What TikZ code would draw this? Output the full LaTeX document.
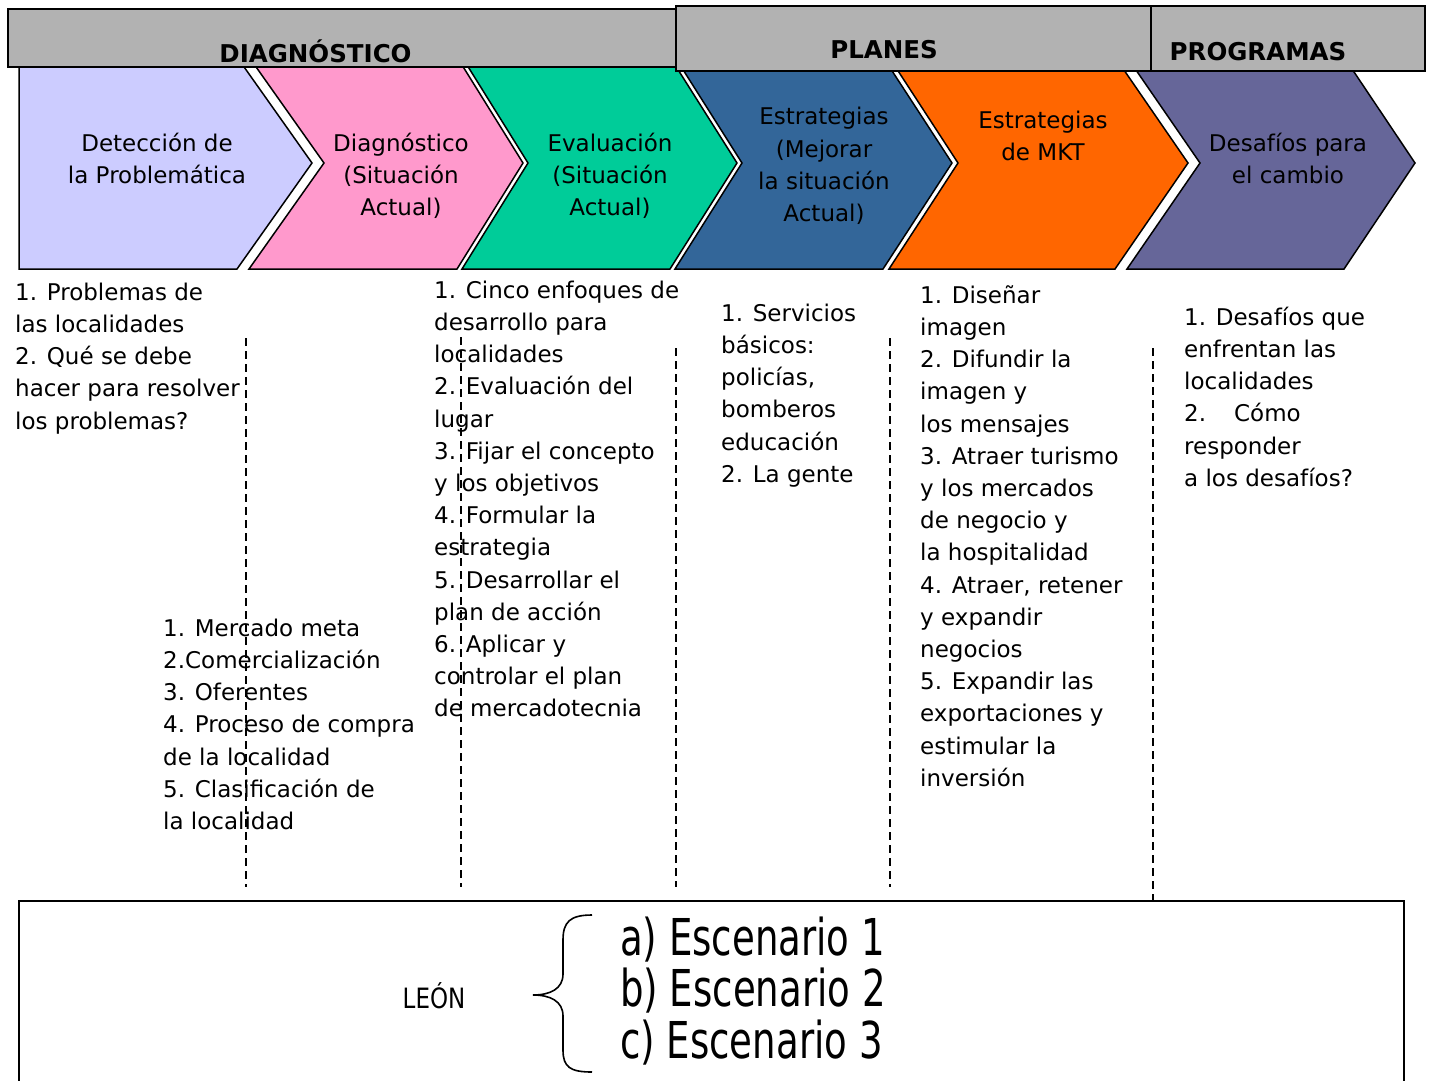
\documentclass[tikz,border=0pt]{standalone}
\usepackage{fontspec}
\setmainfont{DejaVu Sans}
\newfontfamily\narrowfont[FakeStretch=0.73]{DejaVu Sans}
\newfontfamily\leonfont[FakeStretch=0.82]{DejaVu Sans}
\newcommand\stt{\rule[-0.24em]{0pt}{1.2em}}
\definecolor{cLav}{HTML}{CCCCFF}
\definecolor{cPink}{HTML}{FF99CC}
\definecolor{cGreen}{HTML}{00CC99}
\definecolor{cBlue}{HTML}{336699}
\definecolor{cOrange}{HTML}{FF6600}
\definecolor{cPurple}{HTML}{666699}
\definecolor{cHead}{HTML}{B2B2B2}
\newcommand\mychev[5]{% color, Lb, Rb, notch depth, tip depth
  \draw[chevbox, fill=#1] (#2,269) -- (#3,269) -- ({#3+#5},163) -- (#3,57) -- (#2,57) -- ({#2+#4},163) -- cycle;}
\begin{document}
\begin{tikzpicture}[x=1pt,y=-1pt,
  chevbox/.style={draw=black, line width=1.5pt, line join=miter},
  headbox/.style={draw=black, line width=2pt, fill=cHead},
  headtxt/.style={anchor=base, inner sep=0pt, font=\fontsize{24.5}{29}\selectfont\bfseries},
  chevtxt/.style={anchor=center, align=center, inner sep=0pt, font=\fontsize{23}{32.2}\selectfont},
  listtxt/.style={anchor=north west, align=left, inner sep=0pt, font=\fontsize{23}{32.2}\selectfont},
  sep/.style={draw=black, line width=1.8pt, dash pattern=on 8pt off 5pt},
]
\useasboundingbox (0,0) rectangle (1430,1081);
\fill[white] (0,0) rectangle (1430,1081);

% chevrons
\mychev{cLav}{19}{237}{0}{75}
\mychev{cPink}{249}{457}{75}{66}
\mychev{cGreen}{462}{670}{66}{67}
\mychev{cBlue}{675}{883}{67}{69}
\mychev{cOrange}{889}{1115}{69}{73}
\mychev{cPurple}{1127}{1344}{73}{71}

% header bars
\draw[headbox] (8,9) rectangle (676,67);
\draw[headbox] (676,6) rectangle (1151,71);
\draw[headbox] (1151,6) rectangle (1425,71);
\node[headtxt] (hdiag) at (315.5,63) {DIAGNÓSTICO};
\node[headtxt] (hplan) at (884,59) {PLANES};
\node[headtxt] (hprog) at (1258,60) {PROGRAMAS};

% chevron labels
\node[chevtxt] (t1) at (157,159) {\stt Detección de\\la Problemática\stt};
\node[chevtxt] (t2) at (401,175.5) {\stt Diagnóstico\\(Situación\\Actual)\stt};
\node[chevtxt] (t3) at (610,175.5) {\stt Evaluación\\(Situación\\Actual)\stt};
\node[chevtxt] (t4) at (824,165) {\stt Estrategias\\(Mejorar\\la situación\\Actual)\stt};
\node[chevtxt] (t5) at (1043,136) {\stt Estrategias\\de MKT\stt};
\node[chevtxt] (t6) at (1288,159) {\stt Desafíos para\\el cambio\stt};

% dashed separators
\draw[sep] (246,338) -- (246,887);
\draw[sep] (461,337) -- (461,887);
\draw[sep] (676,348) -- (676,887);
\draw[sep] (890,338) -- (890,887);
\draw[sep] (1153,348) -- (1153,901);

% lists
\node[listtxt] (l1) at (15,278) {\stt 1. Problemas de\\las localidades\\2. Qué se debe\\hacer para resolver\\los problemas?};
\node[listtxt] (l1b) at (163,614) {\stt 1. Mercado meta\\2.Comercialización\\3. Oferentes\\4. Proceso de compra\\de la localidad\\5. Clasificación de\\la localidad};
\node[listtxt] (l2) at (434,276) {\stt 1. Cinco enfoques de\\desarrollo para\\localidades\\2. Evaluación del\\lugar\\3. Fijar el concepto\\y los objetivos\\4. Formular la\\estrategia\\5. Desarrollar el\\plan de acción\\6. Aplicar y\\controlar el plan\\de mercadotecnia};
\node[listtxt] (l3) at (721,299) {\stt 1. Servicios\\básicos:\\policías,\\bomberos\\educación\\2. La gente};
\node[listtxt] (l4) at (920,281) {\stt 1. Diseñar\\imagen\\2. Difundir la\\imagen y\\los mensajes\\3. Atraer turismo\\y los mercados\\de negocio y\\la hospitalidad\\4. Atraer, retener\\y expandir\\negocios\\5. Expandir las\\exportaciones y\\estimular la\\inversión};
\node[listtxt] (l5) at (1184,303) {\stt 1. Desafíos que\\enfrentan las\\localidades\\2.\hspace{28pt}Cómo\\responder\\a los desafíos?};

% bottom box
\draw[line width=1.8pt] (19,1086) -- (19,901) -- (1404,901) -- (1404,1086);
\node[anchor=base, inner sep=0pt, font=\leonfont\fontsize{28}{32}\selectfont] (leon) at (434,1008) {LEÓN};
\draw[line width=1.6pt] (592,915) .. controls (570,915) and (563,922) .. (563,940) -- (563,974)
  .. controls (563,989) and (550,995) .. (533,995)
  .. controls (550,995) and (563,1001) .. (563,1016) -- (563,1050)
  .. controls (563,1067) and (570,1072) .. (592,1072);
\node[anchor=north west, align=left, inner sep=0pt, font=\narrowfont\fontsize{50.8}{51.5}\selectfont] (esc) at (620,906.5) {\stt a) Escenario 1\\b) Escenario 2\\c) Escenario 3};
\end{tikzpicture}
\end{document}
